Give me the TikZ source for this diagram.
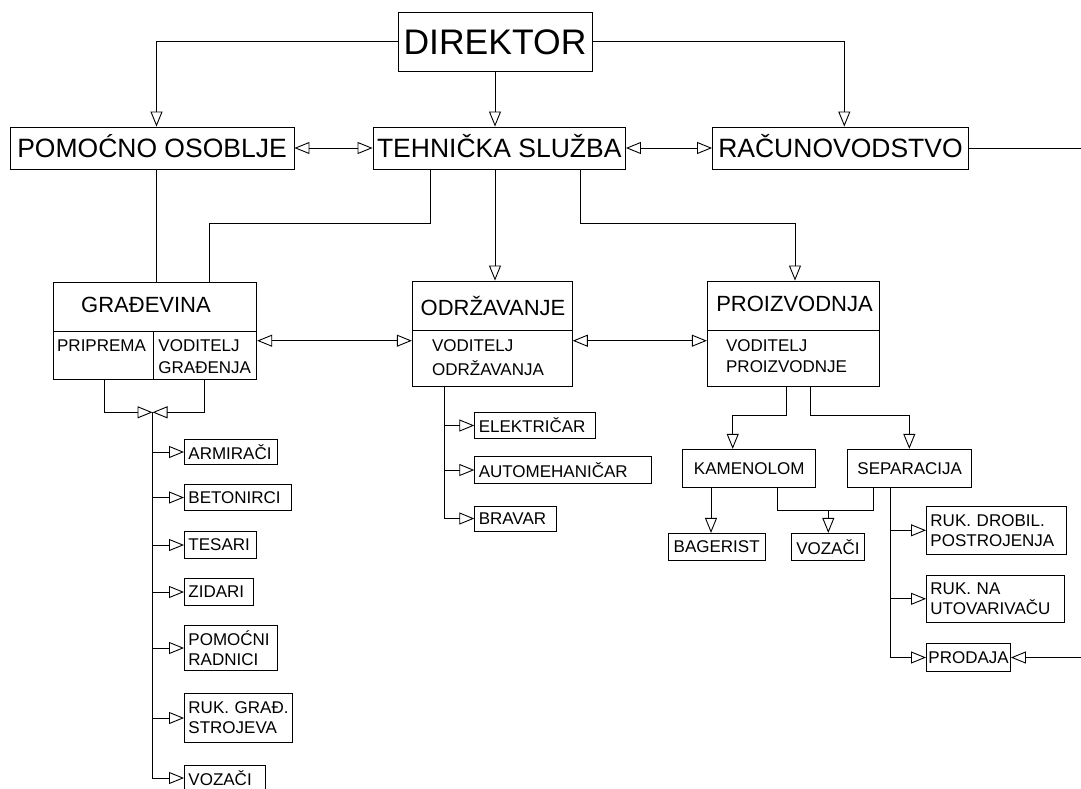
\documentclass[tikz,border=0pt]{standalone}
\usepackage{fontspec}
\setmainfont{Liberation Sans}
\usetikzlibrary{arrows.meta}
\newcommand\fDir{\fontsize{35.5}{40}\selectfont}
\newcommand\fTop{\fontsize{26.5}{30}\selectfont}
\newcommand\fMid{\fontsize{22}{26}\selectfont}
\newcommand\fSml{\fontsize{17}{20}\selectfont}
\tikzset{otri/.tip={Triangle[open,length=15pt,width=12pt]}}
\begin{document}
\begin{tikzpicture}[x=1pt,y=-1pt,line width=0.9pt,
  box/.style={draw,rectangle,inner sep=0pt},
  topbox/.style={box,font=\fTop,minimum height=42pt,text height=19pt,text depth=0pt},
  ttl/.style={inner sep=0pt,font=\fMid,anchor=base},
  lbl/.style={inner sep=0pt,font=\fSml,anchor=base west},
  item/.style={draw,rectangle,font=\fSml,align=left,inner xsep=4pt,inner ysep=0pt,anchor=west},
  citem/.style={draw,rectangle,font=\fSml,inner xsep=2pt,inner ysep=0pt},
  arr/.style={-otri},
  arrb/.style={otri-otri}]
\fill[white] (0,0) rectangle (1081,788);
\useasboundingbox (0,0) rectangle (1081,788);

% top level
\node[box,font=\fDir,minimum width=194pt,minimum height=59pt,text height=26pt,text depth=0pt] (dir) at (495,41.5) {DIREKTOR};
\node[topbox,minimum width=284pt] (pom) at (152,148) {POMOĆNO OSOBLJE};
\node[topbox,minimum width=252.5pt] (teh) at (499.25,148) {TEHNIČKA SLUŽBA};
\node[topbox,minimum width=256pt] (rac) at (840.5,148) {RAČUNOVODSTVO};

% GRADEVINA
\node[box,minimum width=203.4pt,minimum height=48.7pt] (gradt) at (155,306.65) {};
\node[box,minimum width=100pt,minimum height=48pt] (gradp) at (103.3,355) {};
\node[box,minimum width=103.4pt,minimum height=48pt] (gradv) at (205,355) {};
\node[ttl] (gradT) at (146,312.7) {GRAĐEVINA};
\node[lbl] (gradP) at (56.7,351) {PRIPREMA};
\node[lbl] (gradV1) at (158,351) {VODITELJ};
\node[lbl] (gradV2) at (158,373) {GRAĐENJA};

% ODRZAVANJE
\node[box,minimum width=160pt,minimum height=49pt] (odrt) at (492.3,305.5) {};
\node[box,minimum width=160pt,minimum height=56pt] (odrb) at (492.3,358) {};
\node[ttl] (odrT) at (493,315) {ODRŽAVANJE};
\node[lbl] (odrV1) at (431.7,351.7) {VODITELJ};
\node[lbl] (odrV2) at (431.7,375) {ODRŽAVANJA};

% PROIZVODNJA
\node[box,minimum width=172pt,minimum height=49pt] (prot) at (793.3,305.5) {};
\node[box,minimum width=172pt,minimum height=56pt] (prob) at (793.3,358) {};
\node[ttl] (proT) at (794.5,311) {PROIZVODNJA};
\node[lbl] (proV1) at (725.7,351.7) {VODITELJ};
\node[lbl] (proV2) at (725.7,372.3) {PROIZVODNJE};

% left list
\node[item,text width=84.7pt,minimum height=25pt] (armi) at (184,452) {ARMIRAČI};
\node[item,text width=99pt,minimum height=26.5pt] (betn) at (184,497.5) {BETONIRCI};
\node[item,text width=63.7pt,minimum height=26.5pt] (tesa) at (184,545) {TESARI};
\node[item,text width=61.3pt,minimum height=26.5pt] (zida) at (184,592) {ZIDARI};
\node[item,text width=85.3pt,minimum height=45pt] (pomr) at (184,648) {POMOĆNI\\RADNICI};
\node[item,text width=100.3pt,minimum height=48.7pt] (rukg) at (184,718) {RUK.~GRAĐ.\\STROJEVA};
\node[item,text width=73pt,minimum height=26pt] (vozl) at (184,778) {VOZAČI};

% middle list
\node[item,text width=112.7pt,minimum height=26pt] (elek) at (474.3,425.5) {ELEKTRIČAR};
\node[item,text width=168.4pt,minimum height=27.3pt] (auto) at (474.3,470) {AUTOMEHANIČAR};
\node[item,text width=74pt,minimum height=25pt] (brav) at (474.3,518.5) {BRAVAR};

% production subtree
\node[citem,minimum width=133pt,minimum height=38pt] (kam) at (749.2,468.3) {KAMENOLOM};
\node[citem,minimum width=124pt,minimum height=38pt] (sep) at (909.7,468.3) {SEPARACIJA};
\node[citem,minimum width=96.7pt,minimum height=26.7pt] (bag) at (716.7,546.7) {BAGERIST};
\node[citem,minimum width=72.3pt,minimum height=26.7pt] (vozr) at (827.9,546.7) {VOZAČI};
\node[item,text width=132pt,minimum height=47.3pt] (rukd) at (926,530.3) {RUK.~DROBIL.\\POSTROJENJA};
\node[item,text width=130.3pt,minimum height=47.7pt] (rukn) at (926,598.8) {RUK.~NA\\UTOVARIVAČU};
\node[item,inner xsep=2pt,text width=80pt,minimum height=28.4pt] (prod) at (926,657.5) {PRODAJA};

% top connectors
\draw[arr] (dir.west) -| ([xshift=4.5pt]pom.north);
\draw[arr] (dir.south) -- (dir.south |- teh.north);
\draw[arr] (dir.east) -| ([xshift=3.8pt]rac.north);
\draw[arrb] (pom.east) -- (teh.west);
\draw[arrb] (teh.east) -- (rac.west);
\coordinate (re1) at (1081,148);
\draw (rac.east) -- (rac.east -| re1);

% level 3 connectors
\draw ([xshift=4.5pt]pom.south) -- ([xshift=4.5pt]pom.south |- gradt.north);
\coordinate (bG) at (209.3,223.3);
\draw ([xshift=-68.5pt]teh.south) |- (bG) -- (bG |- gradt.north);
\draw[arr] (dir.south |- teh.south) -- (dir.south |- odrt.north);
\coordinate (bP) at (795,223.3);
\draw[arr] ([xshift=81.5pt]teh.south) |- (bP) -- (bP |- prot.north);
\coordinate (yL) at (0,340.7);
\draw[arrb] (gradv.east |- yL) -- (odrb.west |- yL);
\draw[arrb] (odrb.east |- yL) -- (prob.west |- yL);

% gradevina list
\coordinate (gj) at (152.5,412.3);
\draw[arr] ([xshift=1pt]gradp.south) |- (gj);
\draw[arr] ([xshift=-0.7pt]gradv.south) |- (gj);
\draw[arr] (gj) |- (vozl.west);
\foreach \n in {armi,betn,tesa,zida,pomr,rukg}
  \draw[arr] (gj |- \n.west) -- (\n.west);

% odrzavanje list
\coordinate (oj) at (444.5,0);
\draw[arr] (odrb.south -| oj) |- (brav.west);
\draw[arr] (oj |- elek.west) -- (elek.west);
\draw[arr] (oj |- auto.west) -- (auto.west);

% proizvodnja subtree
\coordinate (px1) at (786.7,415);
\coordinate (px2) at (810,415);
\coordinate (pk) at (732.7,415);
\coordinate (ps) at (909.3,415);
\draw[arr] (prob.south -| px1) -- (px1) -- (pk) -- (pk |- kam.north);
\draw[arr] (prob.south -| px2) -- (px2) -- (ps) -- (ps |- sep.north);
\coordinate (kb) at (711,0);
\draw[arr] (kam.south -| kb) -- (bag.north -| kb);
\coordinate (kv1) at (777.7,510);
\coordinate (kv2) at (873.3,510);
\coordinate (kv3) at (828.3,510);
\draw (kam.south -| kv1) -- (kv1) -- (kv2) -- (kv2 |- sep.south);
\draw[arr] (kv3) -- (kv3 |- vozr.north);

% separacija list
\coordinate (sj) at (890.7,0);
\draw[arr] (sep.south -| sj) |- (prod.west);
\draw[arr] (sj |- rukd.west) -- (rukd.west);
\draw[arr] (sj |- rukn.west) -- (rukn.west);
\coordinate (re2) at (1081,657.5);
\draw[arr] (re2) -- (prod.east);
\end{tikzpicture}
\end{document}
